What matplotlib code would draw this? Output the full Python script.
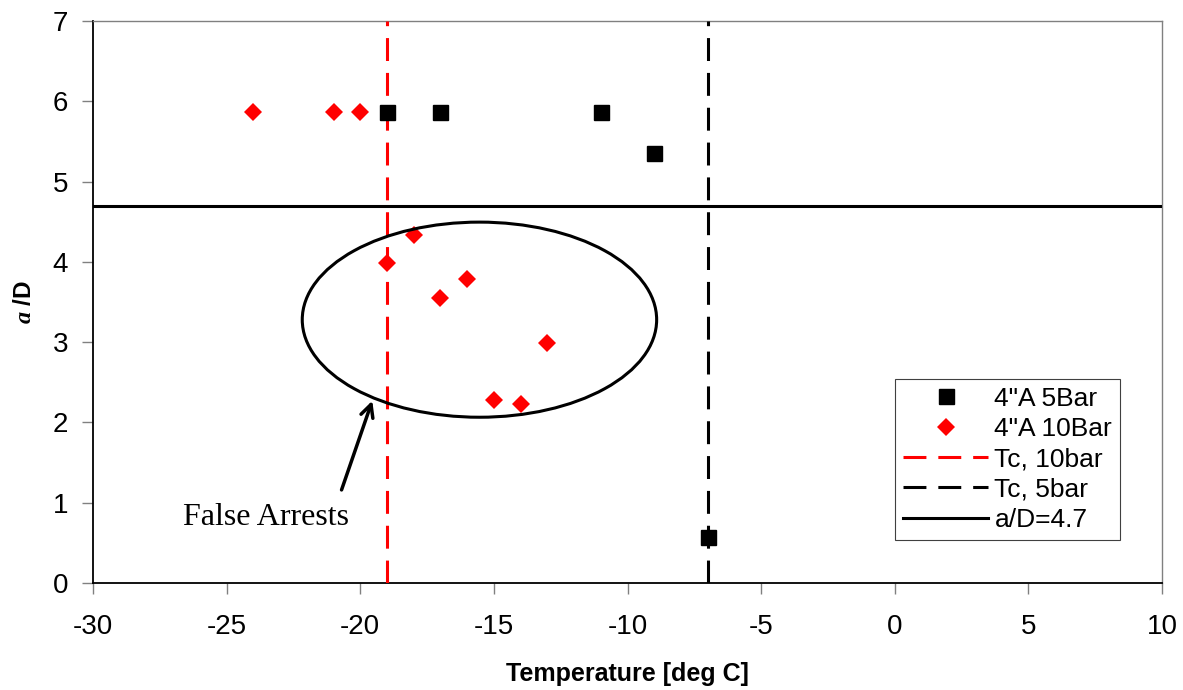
import numpy as np
import matplotlib
matplotlib.use('Agg')
import matplotlib.pyplot as plt
from matplotlib.patches import Ellipse

# ------------------------------------------------------------------
# data
# ------------------------------------------------------------------
temp_5bar = [-19, -17, -11, -9, -7]
aD_5bar = [5.87, 5.87, 5.87, 5.35, 0.57]

temp_10bar = [-24, -21, -20, -19, -18, -17, -16, -15, -14, -13]
aD_10bar = [5.87, 5.87, 5.87, 3.99, 4.33, 3.55, 3.79, 2.28, 2.23, 2.99]

tc_10bar = -19
tc_5bar = -7
aD_limit = 4.7

x_ticks = [-30, -25, -20, -15, -10, -5, 0, 5, 10]
y_ticks = [0, 1, 2, 3, 4, 5, 6, 7]

plt.rcParams['font.family'] = ['Liberation Sans', 'DejaVu Sans']
plt.rcParams['axes.unicode_minus'] = False
plt.rcParams['mathtext.fontset'] = 'custom'
plt.rcParams['mathtext.it'] = 'Liberation Serif:bold:italic'

fig = plt.figure(figsize=(11.83, 6.9), dpi=100)
ax = fig.add_axes([0.0786, 0.155, 0.9037, 0.8146])

# -- markers --
ax.plot(temp_5bar, aD_5bar, linestyle='none', marker='s', markersize=10.8,
        color='black', label='4"A 5Bar', zorder=4)
ax.plot(temp_10bar, aD_10bar, linestyle='none', marker='D', markersize=8.7,
        color='red', markeredgewidth=0, label='4"A 10Bar', zorder=4)

# -- reference lines --
ax.axvline(tc_10bar, color='red', linewidth=2.2, linestyle=(0, (7.5, 3.9)),
           label='Tc, 10bar', zorder=3)
ax.axvline(tc_5bar, color='black', linewidth=2.2, linestyle=(0, (7.5, 3.9)),
           label='Tc, 5bar', zorder=3)
ax.axhline(aD_limit, color='black', linewidth=2.2, label='a/D=4.7', zorder=3)

# -- false arrest annotation --
ax.add_patch(Ellipse((-15.54, 3.28), 13.26, 2.43, fill=False, edgecolor='black',
                     linewidth=2.2, zorder=5))
ax.annotate('', xy=(-19.55, 2.27), xytext=(-20.7, 1.16),
            arrowprops=dict(arrowstyle='->,head_length=0.9,head_width=0.45',
                            color='black', linewidth=2.5, shrinkA=0, shrinkB=0))
ax.text(-23.53, 0.82, 'False Arrests', family='Liberation Serif', fontsize=23,
        ha='center', va='center')

ax.set_xlim(-30, 10)
ax.set_ylim(0, 7)
ax.set_xticks(x_ticks)
ax.set_yticks(y_ticks)
ax.tick_params(axis='both', labelsize=20, direction='out', length=8,
               width=1, color='#808080')
ax.tick_params(axis='x', pad=14)
ax.tick_params(axis='y', pad=10)

for spine in ['top', 'right']:
    ax.spines[spine].set_color('#808080')
    ax.spines[spine].set_linewidth(1)
for spine in ['left', 'bottom']:
    ax.spines[spine].set_color('black')
    ax.spines[spine].set_linewidth(1.3)

ax.set_xlabel('Temperature [deg C]', fontsize=18, fontweight='bold', labelpad=16)
ax.set_ylabel(r'$\mathit{a}$ /D', fontsize=17.5, fontweight='bold', labelpad=12)

leg = ax.legend(loc='lower right', bbox_to_anchor=(0.9607, 0.077), fontsize=19,
                handlelength=3.2, handletextpad=0.25, labelspacing=0.24,
                borderpad=0.3, fancybox=False, framealpha=1, borderaxespad=0)
leg.get_frame().set_edgecolor('#404040')
leg.get_frame().set_linewidth(0.8)

fig.set_facecolor('white')
plt.savefig('out.png', dpi=100)
